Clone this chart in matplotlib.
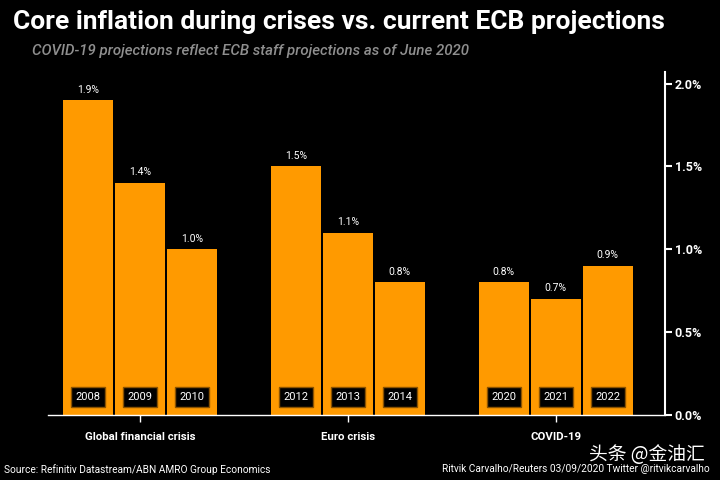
import matplotlib
matplotlib.use("Agg")
import matplotlib.pyplot as plt
import matplotlib.transforms as mtransforms

years = ["2008", "2009", "2010", "2012", "2013", "2014", "2020", "2021", "2022"]
values = [1.9, 1.4, 1.0, 1.5, 1.1, 0.8, 0.8, 0.7, 0.9]
groups = ["Global financial crisis", "Euro crisis", "COVID-19"]
yticks = [0.0, 0.5, 1.0, 1.5, 2.0]

ORANGE = "#FF9A00"
BG = "#000000"

# three bars per group, one empty slot between groups
slots = [g * 4 + i for g in range(3) for i in range(3)]
group_centres = [g * 4 + 1 for g in range(3)]

fig = plt.figure(figsize=(7.2, 4.8), dpi=100, facecolor=BG)
ax = fig.add_axes([48 / 720, 65 / 480, 617 / 720, 343 / 480], facecolor=BG)

ax.bar(slots, values, width=50 / 52, color=ORANGE, edgecolor="none")

for x, v in zip(slots, values):
    ax.annotate(f"{v:.1f}%", (x, v), xytext=(0, 4), textcoords="offset points",
                ha="center", va="bottom", color="white", fontsize=7.5,
                fontfamily="Roboto")

trans = mtransforms.blended_transform_factory(ax.transData, ax.transAxes)
for x, y in zip(slots, years):
    ax.text(x, 0.052, y, transform=trans, ha="center", va="center",
            color="white", fontsize=8, fontfamily="Roboto",
            bbox=dict(boxstyle="square,pad=0.42", fc="black", ec="#8a5200", lw=1))

ax.set_xlim(-0.77, 11.1)
ax.set_ylim(0, 2.07)

for s in ["top", "left"]:
    ax.spines[s].set_visible(False)
ax.spines["bottom"].set_color("white")
ax.spines["right"].set_color("white")
ax.spines["bottom"].set_linewidth(1)
ax.spines["right"].set_linewidth(1.5)

ax.yaxis.tick_right()
ax.set_yticks(yticks)
ax.set_yticklabels([f"{t:.1f}%" for t in yticks], fontweight="bold",
                   fontfamily="Roboto", fontsize=9)
ax.tick_params(axis="y", colors="white", direction="out", length=5, width=1.5, pad=2)

ax.set_xticks(group_centres)
ax.set_xticklabels(groups, fontweight="bold", fontfamily="Roboto", fontsize=8.2)
ax.tick_params(axis="x", colors="white", length=5, width=1, pad=7)

fig.text(13 / 720, 1 - 22 / 480, "Core inflation during crises vs. current ECB projections",
         color="white", fontsize=19, fontweight="bold", fontfamily="Roboto", va="center")
fig.text(32 / 720, 1 - 51 / 480, "COVID-19 projections reflect ECB staff projections as of June 2020",
         color="#8f8f8f", fontsize=10.8, fontstyle="italic", fontweight="medium",
         fontfamily="Roboto", va="center")

fig.text(4 / 720, 1 - 470 / 480, "Source: Refinitiv Datastream/ABN AMRO Group Economics",
         color="white", fontsize=7.3, fontfamily="Roboto", va="center")
fig.text(710 / 720, 1 - 469 / 480, "Ritvik Carvalho/Reuters 03/09/2020 Twitter @ritvikcarvalho",
         color="white", fontsize=7.3, fontfamily="Roboto", va="center", ha="right")
fig.text(705 / 720, 1 - 454 / 480, "头条 @金油汇", color="white", fontsize=13.5,
         family=["Noto Sans CJK SC", "DejaVu Sans"], va="center", ha="right")

fig.savefig("out.png", dpi=100, facecolor=BG)
